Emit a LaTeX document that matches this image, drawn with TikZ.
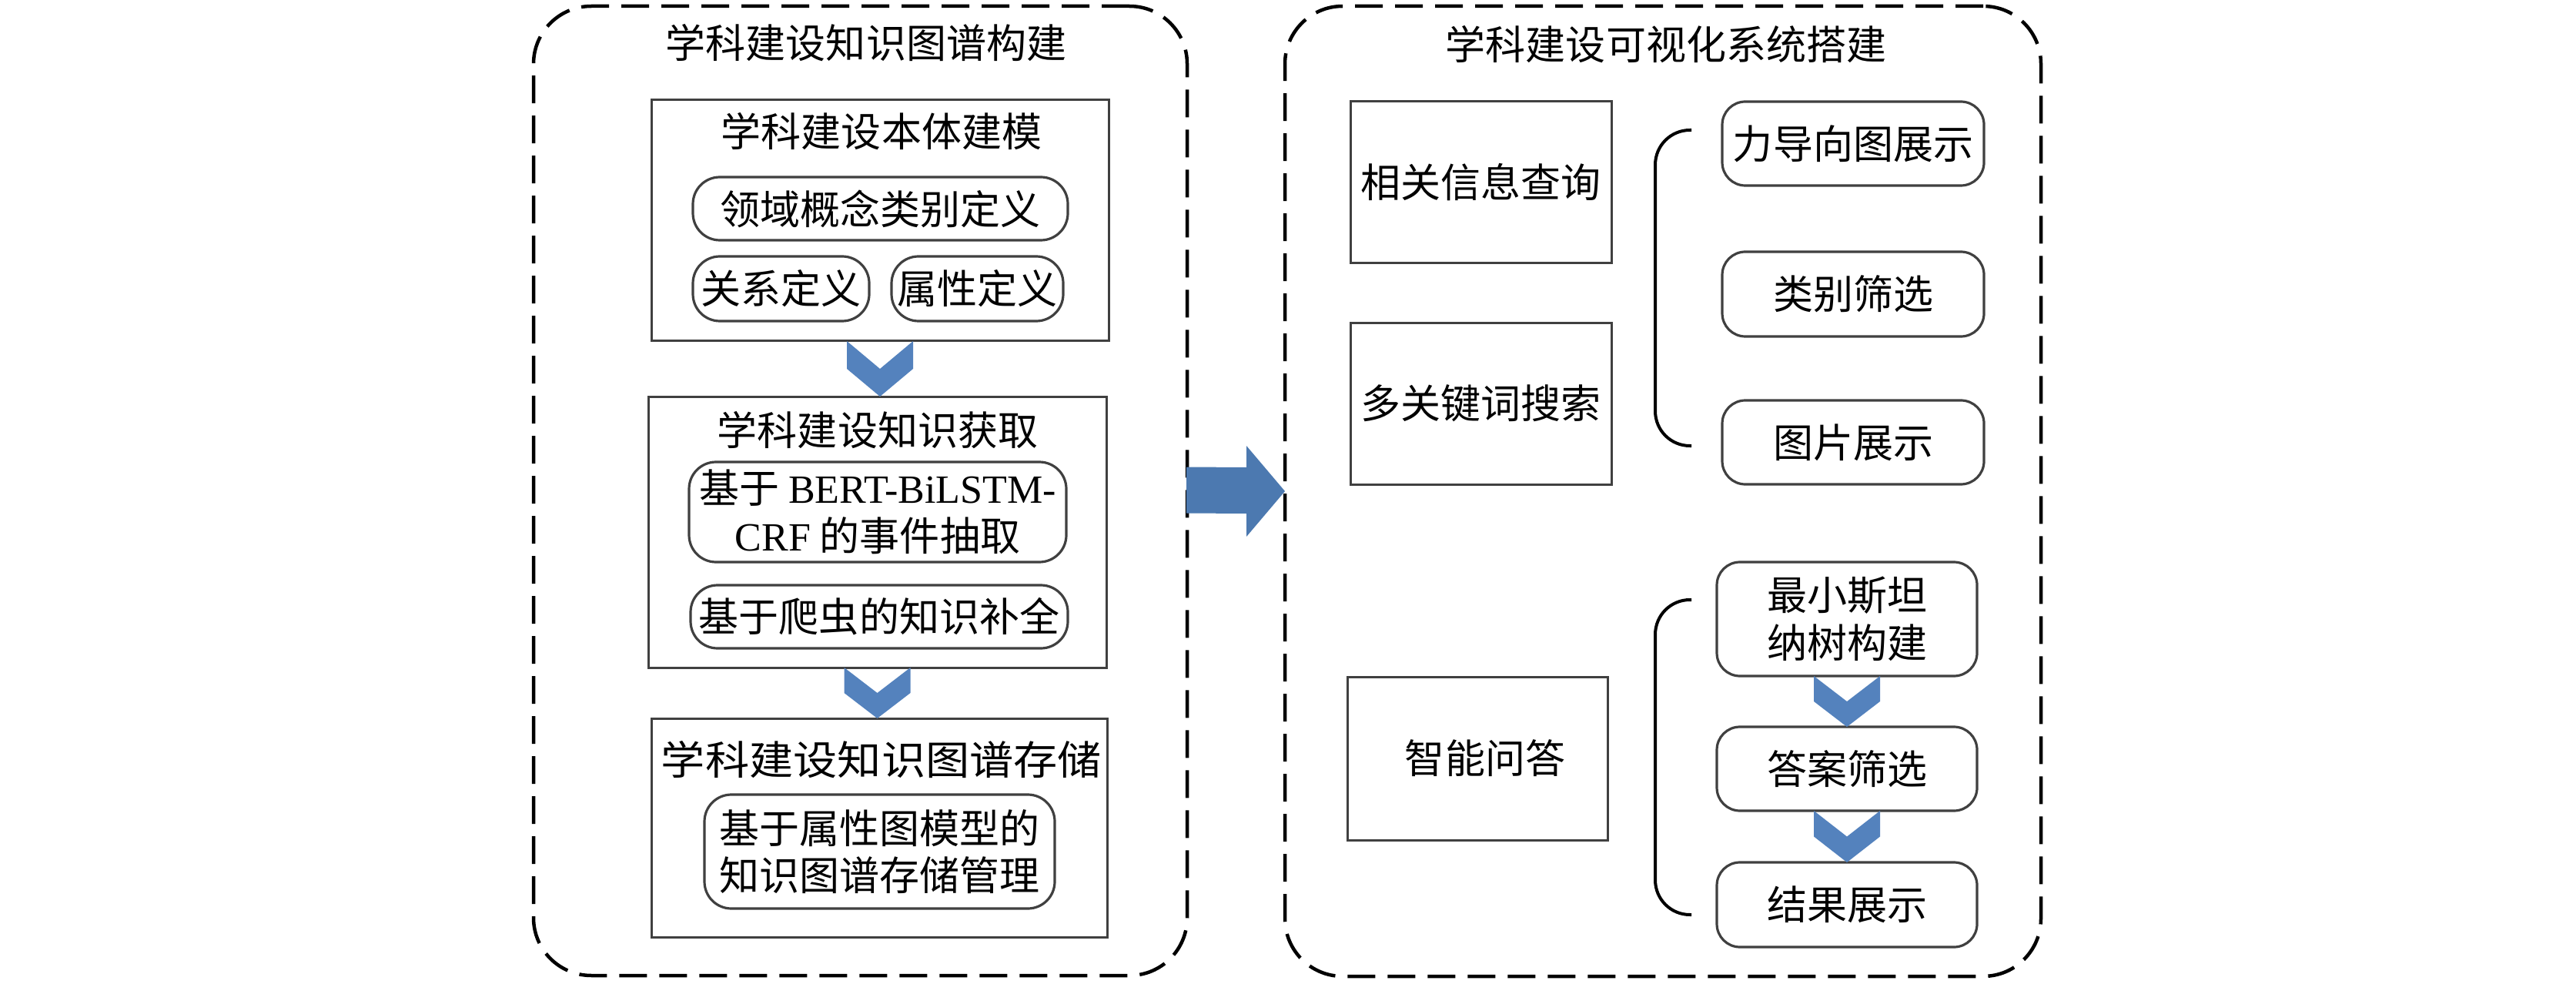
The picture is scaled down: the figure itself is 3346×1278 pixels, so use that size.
\documentclass[tikz,border=0pt]{standalone}
\usepackage{graphicx}
\usepackage{fontspec}
\setmainfont{Noto Sans CJK SC}
\newfontfamily\tnr{Liberation Serif}
\usetikzlibrary{calc}
\definecolor{chevblue}{RGB}{84,130,189}
\definecolor{arrblue}{RGB}{76,121,176}
\definecolor{edgegray}{RGB}{64,64,64}
\newcommand\chevdown[2]{%
  \fill[chev] ($(#1)+(-43,0)$) -- ($(#1)!0.5!(#2)$) -- ($(#1)+(43,0)$)
    -- ($(#1)!0.5!(#2)+(43,0)$) -- (#2) -- ($(#1)!0.5!(#2)+(-43,0)$) -- cycle;}
\begin{document}
\begin{tikzpicture}[x=0.1mm,y=-0.1mm,
  every node/.style={font=\fontsize{14.8pt}{17.5pt}\selectfont, text=black, inner sep=0pt, outer sep=0pt},
  outerbox/.style={draw=black, line width=0.45mm, dash pattern=on 3.6mm off 1.6mm, rounded corners=7.5mm},
  sqbox/.style={draw=edgegray, line width=0.3mm, fill=white},
  rbox/.style={draw=edgegray, line width=0.32mm, rounded corners=3.5mm, fill=white, align=center},
  rboxr/.style={rbox, rounded corners=3mm},
  chev/.style={fill=chevblue},
  brace/.style={draw=black, line width=0.4mm, rounded corners=4.5mm},
]
\useasboundingbox (0,0) rectangle (3346,1278);

% ---------- left part ----------
\node[outerbox, minimum width=84.9mm, minimum height=125.9mm] (outerL) at (1117.5,637.5) {};
\node (titleL) at (1125,56) {学科建设知识图谱构建};

\node[sqbox, minimum width=59.4mm, minimum height=31.3mm] (box1) at (1143,286.5) {};
\node (t1) at (1145,171) {学科建设本体建模};
\node[rbox, minimum width=48.7mm, minimum height=8.2mm] (rdom) at (1143.5,271) {领域概念类别定义};
\node[rbox, minimum width=22.9mm, minimum height=8.4mm] (rrel) at (1014.5,375) {关系定义};
\node[rbox, minimum width=22.3mm, minimum height=8.4mm] (rattr) at (1269.5,375) {属性定义};

\node[sqbox, minimum width=59.5mm, minimum height=35.2mm] (box2) at (1139.5,691) {};
\node (t2) at (1140,559) {学科建设知识获取};
\node[rbox, minimum width=49mm, minimum height=13mm] (rbert) at (1140,665) {基于 {\tnr BERT-BiLSTM-}\\{\tnr CRF} 的事件抽取};
\node[rbox, minimum width=49mm, minimum height=8.2mm] (rcrawl) at (1142,801) {基于爬虫的知识补全};

\node[sqbox, minimum width=59.2mm, minimum height=28.4mm] (box3) at (1142,1075) {};
\node (t3) at (1145,987) {\scalebox{1.1}[1]{学科建设知识图谱存储}};
\node[rbox, minimum width=45.5mm, minimum height=14.8mm] (rstore) at (1142.5,1106) {基于属性图模型的\\知识图谱存储管理};

\coordinate (c1t) at (box1.south);
\coordinate (c1b) at (box1.south |- box2.north);
\coordinate (c2t) at (box2.south);
\coordinate (c2b) at (box2.south |- box3.north);
\chevdown{c1t}{c1b}
\chevdown{c2t}{c2b}

% ---------- right part ----------
\node[outerbox, minimum width=98.2mm, minimum height=126mm] (outerR) at (2160,638) {};
\node (titleR) at (2164,58) {学科建设可视化系统搭建};

\node[sqbox, minimum width=33.9mm, minimum height=21mm] (q1) at (1923.5,237) {相关信息查询};
\node[sqbox, minimum width=33.9mm, minimum height=21mm] (q2) at (1923.5,524) {多关键词搜索};
\node[sqbox, minimum width=33.8mm, minimum height=21.2mm] (q3) at (1919,985) {};
\node (q3t) at (1929,985) {智能问答};

\node[rboxr, minimum width=34mm, minimum height=10.9mm] (f1) at (2407,186.5) {力导向图展示};
\node[rboxr, minimum width=34mm, minimum height=11mm] (f2) at (2407,382) {类别筛选};
\node[rboxr, minimum width=34mm, minimum height=10.9mm] (f3) at (2407,574.5) {图片展示};

\node[rboxr, minimum width=33.8mm, minimum height=14.8mm] (s1) at (2399,804) {最小斯坦\\纳树构建};
\node[rboxr, minimum width=33.8mm, minimum height=10.9mm] (s2) at (2399,998.5) {答案筛选};
\node[rboxr, minimum width=33.8mm, minimum height=11mm] (s3) at (2399,1175) {结果展示};

\coordinate (c3t) at (s1.south);
\coordinate (c3b) at (s1.south |- s2.north);
\coordinate (c4t) at (s2.south);
\coordinate (c4b) at (s2.south |- s3.north);
\chevdown{c3t}{c3b}
\chevdown{c4t}{c4b}

% braces
\coordinate (b1top) at (2197,169);
\coordinate (b1bot) at (2197,579);
\draw[brace] (b1top) -- (2150,169) -- (2150,579) -- (b1bot);
\coordinate (b2top) at (2197,779);
\coordinate (b2bot) at (2197,1188);
\draw[brace] (b2top) -- (2150,779) -- (2150,1188) -- (b2bot);

% big arrow between the two parts
\fill[arrblue] ($(outerL.east)+(-1,-31)$) -- ($(outerR.west)+(-50,-31)$)
  -- ($(outerR.west)+(-50,-59)$) -- (outerR.west) -- ($(outerR.west)+(-50,59)$)
  -- ($(outerR.west)+(-50,29)$) -- ($(outerL.east)+(-1,29)$) -- cycle;
\end{tikzpicture}
\end{document}
